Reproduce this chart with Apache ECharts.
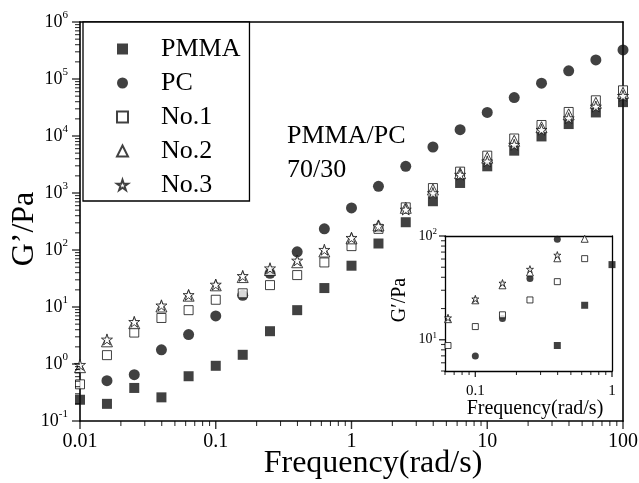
<!DOCTYPE html>
<html>
<head>
<meta charset="utf-8">
<script src="https://cdn.jsdelivr.net/npm/echarts@6/dist/echarts.min.js"></script>
<style>
  html, body { margin: 0; padding: 0; background: #fff; }
  #chart { width: 639px; height: 483px; }
</style>
</head>
<body>
<div id="chart"></div>
<script>
// frequency sweep, 5 points per decade (rad/s)
const freq = [0.01, 0.0158, 0.0251, 0.0398, 0.0631, 0.1, 0.158, 0.251, 0.398, 0.631,
  1, 1.58, 2.51, 3.98, 6.31, 10, 15.8, 25.1, 39.8, 63.1, 100];

// storage modulus G' (Pa)
const pmma = [0.236, 0.20, 0.38, 0.26, 0.61, 0.93, 1.45, 3.76, 8.8, 21.5,
  53, 130, 307, 717, 1500, 2940, 5530, 9830, 16200, 25900, 39300];
const pc = [null, 0.51, 0.65, 1.77, 3.29, 6.96, 16, 39, 93, 235,
  548, 1310, 2940, 6410, 12900, 25900, 47300, 84500, 139000, 216000, 324000];
const no1 = [0.44, 1.43, 3.56, 6.42, 8.8, 13.4, 17.4, 24.2, 36.3, 60.5,
  117, 235, 560, 1220, 2370, 4520, 9040, 15600, 26400, 42300, 63300];
const no2 = [0.88, 2.5, 5.2, 10.2, 15.8, 24, 33.5, 44.5, 61, 94,
  160, 270, 550, 1150, 2230, 4170, 8260, 14250, 24000, 38200, 57200];
const no3 = [0.97, 2.7, 5.5, 10.7, 16.3, 24.8, 35.2, 47.9, 65.5, 101,
  164, 262, 513, 1000, 2100, 3590, 7030, 12900, 20600, 32900, 50700];

const names = ['PMMA', 'PC', 'No.1', 'No.2', 'No.3'];
const values = [pmma, pc, no1, no2, no3];

const FONT = 'Liberation Serif, Times New Roman, serif';
const STAR = 'path://M50,2 L61.8,37.6 L99,37.6 L69,59.6 L80.4,95 L50,73 L19.6,95 L31,59.6 L1,37.6 L38.2,37.6 Z';

// main plot and inset
const mainGrid = { left: 80, right: 16, top: 22, bottom: 62 };
const insetGrid = { left: 445, right: 27, top: 236, bottom: 112 };
const mainX = [0.01, 100], mainY = [0.1, 1e6];
const insetX = [0.06, 1], insetY = [5, 100];

// marker look per series
const marks = [
  { symbol: 'rect', size: 10, fill: '#111', border: 0 },
  { symbol: 'circle', size: 11, fill: '#111', border: 0 },
  { symbol: 'rect', size: 9, fill: '#fff', border: 1 },
  { symbol: 'triangle', size: 11, fill: '#fff', border: 1 },
  { symbol: STAR, size: 11, fill: '#fff', border: 1 }
];

function pairs(ys) {
  return freq.map((f, i) => [f, ys[i]]).filter(d => d[1] != null);
}

function isDecade(v) {
  const e = Math.log10(v);
  return Math.abs(e - Math.round(e)) < 1e-6;
}

function powLabel(v) {
  if (!isDecade(v)) return '';
  return '{b|10}{s|' + Math.round(Math.log10(v)) + '}';
}

function freqLabel(v) {
  if (!isDecade(v)) return '';
  return String(+v.toPrecision(3));
}

// 1..9 x 10^k inside [lo, hi]; m = 1 is a decade (major) tick
function tickValues(lo, hi) {
  const out = [];
  for (let d = Math.floor(Math.log10(lo) + 1e-9); d <= Math.ceil(Math.log10(hi) - 1e-9); d++) {
    for (let m = 1; m <= 9; m++) {
      const v = m * Math.pow(10, d);
      if (v >= lo * 0.9999 && v <= hi * 1.0001) out.push({ v: v, major: m === 1 });
    }
  }
  return out;
}

// outward ticks drawn as thin rect symbols, placed by the axes' own log scales
function tickSeries(g, xr, yr, major, minor, z) {
  const data = [];
  tickValues(xr[0], xr[1]).forEach(t => {
    const len = t.major ? major : minor;
    data.push({ value: [t.v, yr[0]], symbolSize: [t.major ? 1.4 : 1.1, len], symbolOffset: [0, len / 2] });
  });
  tickValues(yr[0], yr[1]).forEach(t => {
    const len = t.major ? major : minor;
    data.push({ value: [xr[0], t.v], symbolSize: [len, t.major ? 1.4 : 1.1], symbolOffset: [-len / 2, 0] });
  });
  return {
    type: 'scatter', xAxisIndex: g, yAxisIndex: g, data: data,
    symbol: 'rect', clip: false, silent: true, z: z,
    itemStyle: { color: '#000', borderWidth: 0 },
    emphasis: { disabled: true }
  };
}

const series = [];
names.forEach((n, i) => {
  const m = marks[i];
  series.push({
    name: n, type: 'scatter', xAxisIndex: 0, yAxisIndex: 0,
    data: pairs(values[i]), symbol: m.symbol, symbolSize: m.size, clip: false,
    itemStyle: { color: m.fill, borderColor: '#111', borderWidth: m.border }
  });
});
names.forEach((n, i) => {
  const m = marks[i];
  series.push({
    name: n, type: 'scatter', xAxisIndex: 1, yAxisIndex: 1, z: 5,
    data: pairs(values[i]), symbol: m.symbol, symbolSize: Math.round(m.size * 0.68), clip: true,
    itemStyle: { color: m.fill, borderColor: '#111', borderWidth: m.border }
  });
});
series.push(tickSeries(0, mainX, mainY, 8, 5, 3));
series.push(tickSeries(1, insetX, insetY, 6, 4, 6));

function logAxis(g, range, pos, lw) {
  return {
    type: 'log', gridIndex: g, min: range[0], max: range[1], position: pos,
    axisLine: { show: true, lineStyle: { color: '#000', width: lw } },
    splitLine: { show: false },
    axisTick: { show: false },
    minorTick: { show: false }
  };
}

// plain line for the top / right frame
function frameAxis(g, range, pos, lw) {
  const a = logAxis(g, range, pos, lw);
  a.axisLabel = { show: false };
  return a;
}

const x0 = logAxis(0, mainX, 'bottom', 1.6);
x0.axisLabel = { fontFamily: FONT, fontSize: 20, color: '#000', margin: 11, formatter: freqLabel };

const x1 = logAxis(1, insetX, 'bottom', 1.3);
x1.axisLabel = { fontFamily: FONT, fontSize: 15, color: '#000', margin: 13, formatter: freqLabel };

const y0 = logAxis(0, mainY, 'left', 1.6);
y0.axisLabel = {
  color: '#000', margin: 12, formatter: powLabel,
  rich: {
    b: { fontFamily: FONT, fontSize: 18, lineHeight: 24, color: '#000' },
    s: { fontFamily: FONT, fontSize: 11, lineHeight: 11, verticalAlign: 'top', color: '#000' }
  }
};

const y1 = logAxis(1, insetY, 'left', 1.3);
y1.axisLabel = {
  color: '#000', margin: 8, formatter: powLabel,
  rich: {
    b: { fontFamily: FONT, fontSize: 14, lineHeight: 18, color: '#000' },
    s: { fontFamily: FONT, fontSize: 9, lineHeight: 9, verticalAlign: 'top', color: '#000' }
  }
};

const option = {
  animation: false,
  grid: [
    Object.assign({ outerBoundsMode: 'none' }, mainGrid),
    Object.assign({ outerBoundsMode: 'none' }, insetGrid)
  ],
  xAxis: [x0, x1, frameAxis(0, mainX, 'top', 1.6), frameAxis(1, insetX, 'top', 1.3)],
  yAxis: [y0, y1, frameAxis(0, mainY, 'right', 1.6), frameAxis(1, insetY, 'right', 1.3)],
  legend: {
    data: names,
    orient: 'vertical',
    left: 83, top: 22,
    padding: [14, 9, 3, 33],
    itemWidth: 11, itemHeight: 11, itemGap: 8,
    borderColor: '#000', borderWidth: 1.3,
    backgroundColor: '#fff',
    selectedMode: false,
    formatter: '{t|{name}}',
    textStyle: {
      rich: { t: { fontFamily: FONT, fontSize: 26, lineHeight: 26, color: '#000', padding: [0, 0, 0, 28] } }
    }
  },
  graphic: [
    {
      type: 'text', left: 287, top: 119, z: 60,
      style: { text: 'PMMA/PC\n70/30', fontFamily: FONT, fontSize: 26, lineHeight: 34, fill: '#000' }
    },
    {
      type: 'text', x: 25, y: 229, rotation: Math.PI / 2, z: 60,
      style: { text: 'G\u2019/Pa', fontFamily: FONT, fontSize: 32, fill: '#000', align: 'center', verticalAlign: 'middle' }
    },
    {
      type: 'text', x: 373, y: 464, z: 60,
      style: { text: 'Frequency(rad/s)', fontFamily: FONT, fontSize: 32, fill: '#000', align: 'center', verticalAlign: 'middle' }
    },
    {
      type: 'text', x: 535, y: 409, z: 60,
      style: { text: 'Frequency(rad/s)', fontFamily: FONT, fontSize: 20, fill: '#000', align: 'center', verticalAlign: 'middle' }
    },
    {
      type: 'text', x: 400, y: 300, rotation: Math.PI / 2, z: 60,
      style: { text: 'G\u2032/Pa', fontFamily: FONT, fontSize: 20, fill: '#000', align: 'center', verticalAlign: 'middle' }
    }
  ],
  series: series
};

const chart = echarts.init(document.getElementById('chart'), null, { renderer: 'canvas' });
chart.setOption(option);
</script>
</body>
</html>
